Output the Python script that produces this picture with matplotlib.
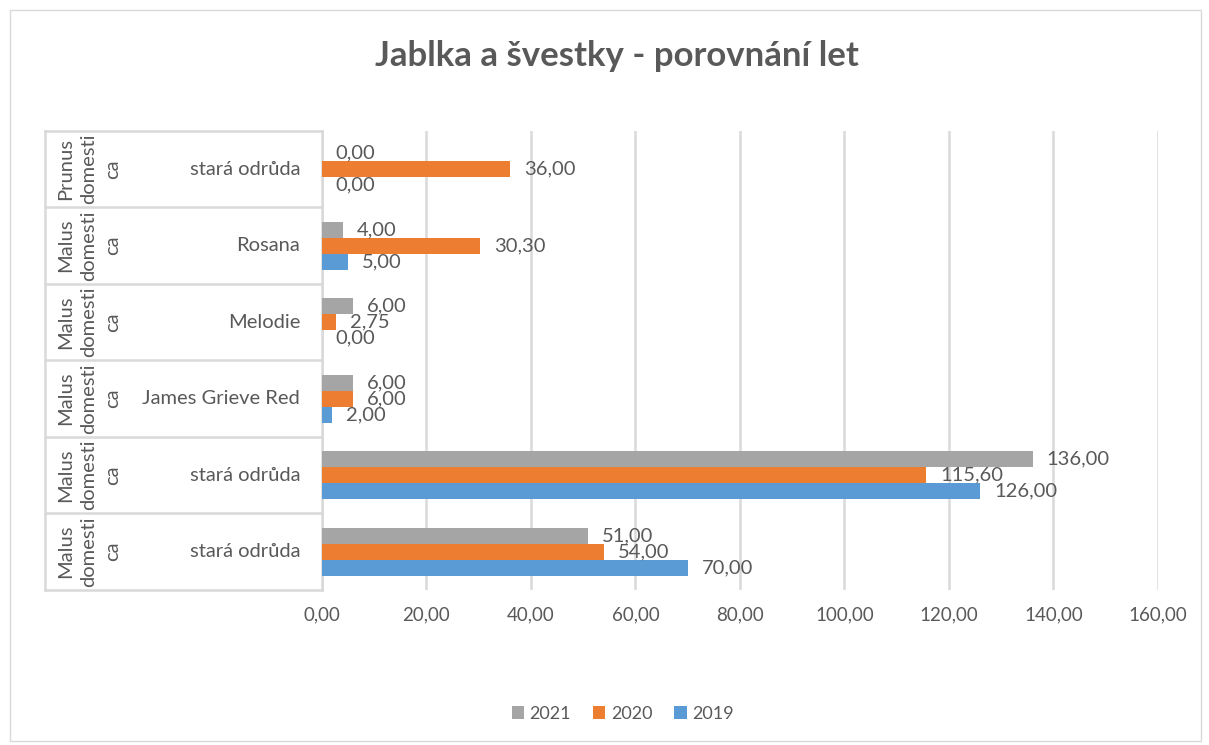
import numpy as np
import matplotlib.pyplot as plt
from matplotlib.patches import Rectangle

plt.rcParams['font.family'] = ['Lato', 'DejaVu Sans']

# data, categories from bottom to top (as Excel draws them)
druhy = ["Malus\ndomesti\nca", "Malus\ndomesti\nca", "Malus\ndomesti\nca",
         "Malus\ndomesti\nca", "Malus\ndomesti\nca", "Prunus\ndomesti\nca"]
odrudy = ["stará odrůda", "stará odrůda", "James Grieve Red",
          "Melodie", "Rosana", "stará odrůda"]
roky = ["2021", "2020", "2019"]
v2021 = [51.00, 136.00, 6.00, 6.00, 4.00, 0.00]
v2020 = [54.00, 115.60, 6.00, 2.75, 30.30, 36.00]
v2019 = [70.00, 126.00, 2.00, 0.00, 5.00, 0.00]
barvy = ["#A5A5A5", "#ED7D31", "#5B9BD5"]
text_col = "#595959"
grid_col = "#D9D9D9"

fig = plt.figure(figsize=(12.09, 7.45), dpi=100)
ax = fig.add_axes([0.2663, 0.2081, 0.6915, 0.6161])

y = np.arange(len(odrudy)) + 0.5
h = 0.21
serie = [v2021, v2020, v2019]
posun = [h, 0, -h]
for vals, off, c, rok in zip(serie, posun, barvy, roky):
    bars = ax.barh(y + off, vals, height=h, color=c, label=rok, zorder=3)
    for b, v in zip(bars, vals):
        ax.annotate(f"{v:.2f}".replace(".", ","),
                    (b.get_width(), b.get_y() + b.get_height() / 2),
                    xytext=(10, 0), textcoords="offset points",
                    ha="left", va="center", fontsize=14.5, color=text_col,
                    zorder=4)

ax.set_xlim(0, 160)
ax.set_ylim(0, 6)
ax.set_xticks(np.arange(0, 161, 20))
ax.set_xticklabels([f"{t:.2f}".replace(".", ",") for t in np.arange(0, 161, 20)])
ax.tick_params(axis="x", length=0, pad=12, labelsize=13.5, labelcolor=text_col)
ax.set_yticks([])
ax.grid(axis="x", color=grid_col, linewidth=1.8, zorder=0)
for s in ["top", "right", "bottom"]:
    ax.spines[s].set_visible(False)
ax.spines["left"].set_color(grid_col)
ax.spines["left"].set_linewidth(1.8)

# multi-level category axis
tr = ax.get_yaxis_transform()
x_left = -0.3313
for yy in range(len(odrudy) + 1):
    ax.plot([x_left, 0], [yy, yy], transform=tr, color=grid_col,
            linewidth=1.8, clip_on=False)
ax.plot([x_left, x_left], [0, 6], transform=tr, color=grid_col,
        linewidth=1.8, clip_on=False)
for yy, d, o in zip(y, druhy, odrudy):
    ax.text(-0.2785, yy, d, transform=tr, rotation=90, ha="center",
            va="center", multialignment="center", fontsize=14.5,
            color=text_col, linespacing=1.45)
    ax.text(-0.026, yy, o, transform=tr, ha="right", va="center",
            fontsize=14.5, color=text_col)

fig.text(0.51, 0.925, "Jablka a švestky - porovnání let", ha="center",
         va="center", fontsize=25, fontweight="bold", color=text_col)

fig.legend(loc="center", bbox_to_anchor=(0.515, 0.042), ncol=3,
           frameon=False, fontsize=13, handlelength=0.7, handleheight=0.7,
           handletextpad=0.3, columnspacing=1.2, labelcolor=text_col)

fig.patches.append(Rectangle((0.008, 0.006), 0.985, 0.98,
                             transform=fig.transFigure, fill=False,
                             edgecolor=grid_col, linewidth=1))

fig.savefig("out.png", dpi=100)
